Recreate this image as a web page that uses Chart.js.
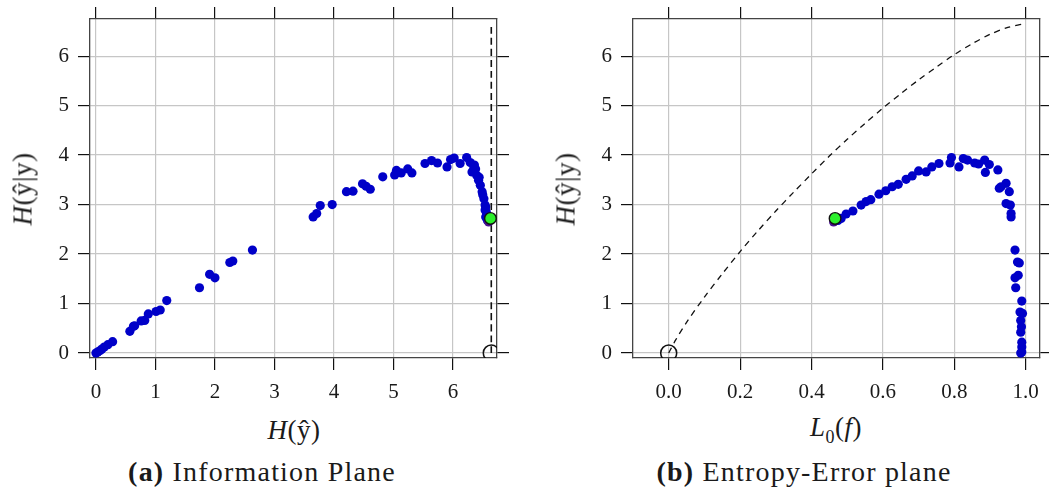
<!DOCTYPE html>
<html>
<head>
<meta charset="utf-8">
<script src="https://cdn.jsdelivr.net/npm/chart.js@4.4.1/dist/chart.umd.min.js"></script>
<style>
  body { margin: 0; background: #fff; }
  #wrap { position: relative; width: 1049px; height: 488px; overflow: hidden; font-family: 'Liberation Serif', serif; color: #1a1a1a; }
  canvas { position: absolute; top: 0; }
  .lbl { position: absolute; white-space: nowrap; font-size: 27px; line-height: 1; letter-spacing: 0.5px; }
  .ylbl { transform: translate(-50%, -50%) rotate(-90deg); }
  .xlbl { transform: translate(-50%, -50%); }
  .cap { position: absolute; white-space: nowrap; font-size: 28px; letter-spacing: 1.2px; transform: translate(-50%, -50%); line-height: 1; }
</style>
</head>
<body>
<div id="wrap">
  <canvas id="infoPlane" style="left:0px"></canvas>
  <canvas id="errorPlane" style="left:520px"></canvas>
  <div class="lbl ylbl" style="left:23px; top:189px"><i>H</i>(ŷ|y)</div>
  <div class="lbl xlbl" style="left:294px; top:430px"><i>H</i>(ŷ)</div>
  <div class="cap" style="left:262px; top:472px"><b>(a)</b> Information Plane</div>
  <div class="lbl ylbl" style="left:566px; top:189px"><i>H</i>(ŷ|y)</div>
  <div class="lbl xlbl" style="left:836px; top:430px"><i>L</i><sub style="font-size:18px">0</sub>(<i>f</i>)</div>
  <div class="cap" style="left:804px; top:472px"><b>(b)</b> Entropy-Error plane</div>
</div>
<script>
// (a) information plane: H(y_hat) vs H(y_hat | y)
const predEntropy = [0.0, 0.03, 0.07, 0.1, 0.14, 0.2, 0.28, 0.57, 0.63, 0.65, 0.76, 0.82, 0.88, 1.01, 1.08, 1.19,
  1.74, 1.91, 2.0, 2.25, 2.3, 2.63, 3.65, 3.71, 3.77, 3.97, 4.21, 4.32, 4.48, 4.54, 4.61, 4.82, 5.02, 5.05, 5.13,
  5.24, 5.31, 5.53, 5.64, 5.74, 5.9, 5.96, 6.02, 6.12, 6.23, 6.29, 6.35, 6.36, 6.32, 6.38, 6.4, 6.43, 6.44, 6.46,
  6.49, 6.5, 6.52, 6.54, 6.55, 6.54, 6.56, 6.57, 6.55, 6.58];
const condEntropyA = [0.0, 0.02, 0.05, 0.08, 0.12, 0.17, 0.23, 0.44, 0.54, 0.55, 0.65, 0.66, 0.79, 0.84, 0.87, 1.06,
  1.32, 1.59, 1.52, 1.83, 1.86, 2.08, 2.75, 2.82, 2.98, 3.0, 3.26, 3.27, 3.42, 3.37, 3.31, 3.56, 3.6, 3.69, 3.64,
  3.72, 3.64, 3.83, 3.89, 3.84, 3.76, 3.91, 3.94, 3.83, 3.95, 3.85, 3.76, 3.8, 3.66, 3.72, 3.59, 3.49, 3.55, 3.39,
  3.26, 3.2, 3.12, 2.99, 2.95, 2.89, 2.85, 2.79, 2.75, 2.68];

// (b) entropy-error plane: L0(f) vs H(y_hat | y)
const errorRate = [0.474, 0.483, 0.497, 0.516, 0.539, 0.553, 0.566, 0.589, 0.608, 0.626, 0.643, 0.665, 0.682, 0.7,
  0.721, 0.737, 0.757, 0.788, 0.792, 0.813, 0.825, 0.837, 0.857, 0.868, 0.885, 0.898, 0.887, 0.922, 0.926, 0.931,
  0.945, 0.954, 0.945, 0.957, 0.959, 0.959, 0.97, 0.977, 0.982, 0.97, 0.979, 0.972, 0.989, 0.984, 0.991, 0.986,
  0.988, 0.986, 0.989, 0.989, 0.989, 0.986];
const condEntropyB = [2.68, 2.72, 2.81, 2.87, 2.99, 3.06, 3.1, 3.21, 3.28, 3.36, 3.41, 3.51, 3.58, 3.68, 3.66, 3.76,
  3.83, 3.84, 3.95, 3.76, 3.93, 3.9, 3.84, 3.82, 3.9, 3.81, 3.65, 3.7, 3.33, 3.36, 3.43, 3.26, 3.02, 2.99, 2.82,
  2.75, 2.08, 1.84, 1.82, 1.52, 1.57, 1.32, 1.05, 0.83, 0.8, 0.66, 0.53, 0.42, 0.22, 0.12, 0.02, 0.0];

// the final model and the ideal point in each plane
const finalModelA = { x: 6.63, y: 2.72 };
const finalModelB = { x: 0.466, y: 2.72 };
const earlyModelA = { x: 6.6, y: 2.65 };
const earlyModelB = { x: 0.462, y: 2.65 };
const idealA = { x: 6.644, y: 0 };
const idealB = { x: 0, y: 0 };

// maximum entropy bound (log2 of 100 classes) and the bound on H(y_hat|y) vs error
const maxEntropy = 6.644;
const boundErr = [0, 0.02, 0.05, 0.1, 0.15, 0.2, 0.25, 0.3, 0.35, 0.4, 0.45, 0.5, 0.55, 0.6, 0.65, 0.7, 0.75, 0.8, 0.85, 0.9, 0.95, 0.99];
const boundH = [0, 0.27, 0.62, 1.13, 1.6, 2.05, 2.47, 2.87, 3.25, 3.62, 3.98, 4.32, 4.64, 4.95, 5.24, 5.52, 5.78, 6.03, 6.25, 6.44, 6.58, 6.644];

const ticksA = [0, 1, 2, 3, 4, 5, 6];
const ticksErr = [0, 0.2, 0.4, 0.6, 0.8, 1.0];

const toPoints = (xs, ys) => xs.map((x, i) => ({ x: x, y: ys[i] }));

const tickFont = { family: 'Liberation Serif', size: 21 };

function axis(pos, min, max, ticks, size, showLabels, fmt) {
  return {
    type: 'linear',
    position: pos,
    min: min,
    max: max,
    afterBuildTicks: s => { s.ticks = ticks.map(v => ({ value: v })); },
    afterFit: s => {
      // fixed axis sizes, and no extra room asked for by edge labels
      if (pos === 'left' || pos === 'right') s.width = size; else s.height = size;
      s.paddingLeft = s.paddingRight = s.paddingTop = s.paddingBottom = 0;
    },
    grid: {
      display: true,
      drawOnChartArea: showLabels,
      color: '#c6c6c6',
      lineWidth: 1.2,
      tickColor: '#111',
      tickWidth: 1.2,
      tickLength: 12
    },
    border: { display: true, color: '#444', width: 1.3 },
    ticks: {
      display: showLabels,
      color: '#1a1a1a',
      font: tickFont,
      padding: pos === 'left' ? 9 : 10,
      callback: fmt
    }
  };
}

function makeChart(id, width, left, right, xMin, xMax, xTicks, xFmt, datasets) {
  const cv = document.getElementById(id);
  cv.width = width;
  cv.height = 400;
  cv.style.width = width + 'px';
  cv.style.height = '400px';
  return new Chart(cv, {
    type: 'scatter',
    data: { datasets: datasets },
    options: {
      responsive: false,
      animation: false,
      layout: { padding: 0 },
      plugins: { legend: { display: false }, tooltip: { enabled: false } },
      scales: {
        x: axis('bottom', xMin, xMax, xTicks, 42, true, xFmt),
        x2: axis('top', xMin, xMax, xTicks, 19, false),
        y: axis('left', -0.1, 6.75, ticksA, left, true, v => v),
        y2: axis('right', -0.1, 6.75, ticksA, right, false)
      }
    }
  });
}

function planeSets(points, early, finalPt, ideal, boundPts, dash) {
  return [
    { data: [finalPt], pointRadius: 5.8, backgroundColor: '#2cf02c', borderColor: '#111', borderWidth: 1.4, order: 0 },
    { data: [ideal], pointRadius: 8, backgroundColor: 'rgba(0,0,0,0)', borderColor: '#111', borderWidth: 1.5, order: 1 },
    { data: [early], pointRadius: 4.6, backgroundColor: '#4a1090', borderWidth: 0, order: 2 },
    { data: points, pointRadius: 4.6, backgroundColor: '#0000c8', borderWidth: 0, order: 3 },
    { data: boundPts, showLine: true, pointRadius: 0, borderColor: '#111', borderWidth: dash.w,
      borderDash: dash.d, fill: false, tension: 0.3, order: 4 }
  ];
}

makeChart('infoPlane', 520, 90, 23, -0.1, 6.74, ticksA, v => v,
  planeSets(toPoints(predEntropy, condEntropyA), earlyModelA, finalModelA, idealA,
    [{ x: maxEntropy, y: 0 }, { x: maxEntropy, y: 6.66 }], { w: 1.6, d: [7, 4] }));

// canvas runs past the page edge so the right tick marks are cut like a clipped figure
makeChart('errorPlane', 545, 113, 25, -0.1, 1.04, ticksErr, v => v.toFixed(1),
  planeSets(toPoints(errorRate, condEntropyB), earlyModelB, finalModelB, idealB,
    toPoints(boundErr, boundH), { w: 1.3, d: [6, 5] }));
</script>
</body>
</html>
